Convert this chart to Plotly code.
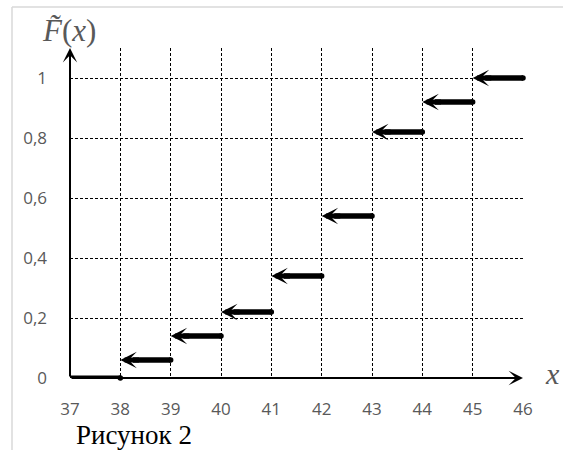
import plotly.graph_objects as go

# Data: empirical distribution function F~(x)
x_left = [37, 38, 39, 40, 41, 42, 43, 44, 45]
x_right = [38, 39, 40, 41, 42, 43, 44, 45, 46]
F_vals = [0, 0.06, 0.14, 0.22, 0.34, 0.54, 0.82, 0.92, 1.0]
x_ticks = [37, 38, 39, 40, 41, 42, 43, 44, 45, 46]
y_ticks = [0, 0.2, 0.4, 0.6, 0.8, 1.0]
y_tick_labels = ["0", "0,2", "0,4", "0,6", "0,8", "1"]

L, R, T, B = 70, 40, 48, 72
W, H = 563, 450
pw, ph = W - L - R, H - T - B


def px_x(p):
    return (p - L) / pw


def px_y(p):
    return (T + ph - p) / ph


fig = go.Figure()

# first segment (no arrow)
fig.add_trace(go.Scatter(x=[x_left[0], x_right[0]], y=[F_vals[0], F_vals[0]],
                         mode="lines", line=dict(color="black", width=5),
                         hoverinfo="skip", showlegend=False))

annotations = []
for xl, xr, v in zip(x_left[1:], x_right[1:], F_vals[1:]):
    fig.add_trace(go.Scatter(x=[xl + 0.25, xr], y=[v, v], mode="lines",
                             line=dict(color="black", width=5.5),
                             hoverinfo="skip", showlegend=False))
    annotations.append(dict(x=xl, y=v, ax=xl + 0.4, ay=v, xref="x", yref="y",
                            axref="x", ayref="y", showarrow=True, arrowhead=3,
                            arrowsize=0.55, arrowwidth=5, arrowcolor="black",
                            standoff=0, text=""))

# rounded right ends
fig.add_trace(go.Scatter(x=x_right, y=F_vals, mode="markers",
                         marker=dict(color="black", size=5.5, symbol="circle"),
                         hoverinfo="skip", showlegend=False, cliponaxis=False))

# axis arrows
annotations.append(dict(x=37, y=1.1, ax=37, ay=0, xref="x", yref="y", axref="x", ayref="y",
                        showarrow=True, arrowhead=3, arrowsize=1.2, arrowwidth=2,
                        arrowcolor="black", text="", standoff=0))
annotations.append(dict(x=46, y=0, ax=37, ay=0, xref="x", yref="y", axref="x", ayref="y",
                        showarrow=True, arrowhead=3, arrowsize=1.2, arrowwidth=2,
                        arrowcolor="black", text="", standoff=0))

# labels
annotations.append(dict(x=px_x(40), y=px_y(30), xref="paper", yref="paper",
                        xanchor="left", yanchor="middle", showarrow=False,
                        text="<i>F̃</i>(<i>x</i>)",
                        font=dict(family="Liberation Serif", size=31, color="#595959")))
annotations.append(dict(x=px_x(552), y=px_y(373), xref="paper", yref="paper",
                        xanchor="center", yanchor="middle", showarrow=False,
                        text="<i>x</i>",
                        font=dict(family="Liberation Serif", size=30, color="#595959")))
annotations.append(dict(x=px_x(74), y=px_y(435), xref="paper", yref="paper",
                        xanchor="left", yanchor="middle", showarrow=False,
                        text="Рисунок 2",
                        font=dict(family="Liberation Serif", size=27, color="black")))

shapes = [
    dict(type="line", xref="paper", yref="paper", x0=px_x(12), x1=px_x(12),
         y0=px_y(7), y1=px_y(460), line=dict(color="#d9d9d9", width=1.5)),
    dict(type="line", xref="paper", yref="paper", x0=px_x(12), x1=px_x(570),
         y0=px_y(7), y1=px_y(7), line=dict(color="#d9d9d9", width=1.5)),
]

fig.update_layout(
    width=W, height=H, margin=dict(l=L, r=R, t=T, b=B),
    paper_bgcolor="white", plot_bgcolor="white",
    annotations=annotations, shapes=shapes, showlegend=False,
    xaxis=dict(range=[37, 46.0001], tickvals=x_ticks, ticktext=[str(v) for v in x_ticks],
               showgrid=True, gridcolor="black", gridwidth=1, griddash="3px,2px",
               zeroline=False, showline=False, ticks="", ticklabelstandoff=19,
               tickfont=dict(family="Open Sans", size=17, color="#595959")),
    yaxis=dict(range=[0, 1.1], tickvals=y_ticks, ticktext=y_tick_labels,
               showgrid=True, gridcolor="black", gridwidth=1, griddash="3px,2px",
               zeroline=False, showline=False, ticks="", ticklabelstandoff=22,
               tickfont=dict(family="Open Sans", size=17, color="#595959")),
)

fig.write_html("out.html", config={"displayModeBar": False},
               post_script="document.body.style.margin='0';")
